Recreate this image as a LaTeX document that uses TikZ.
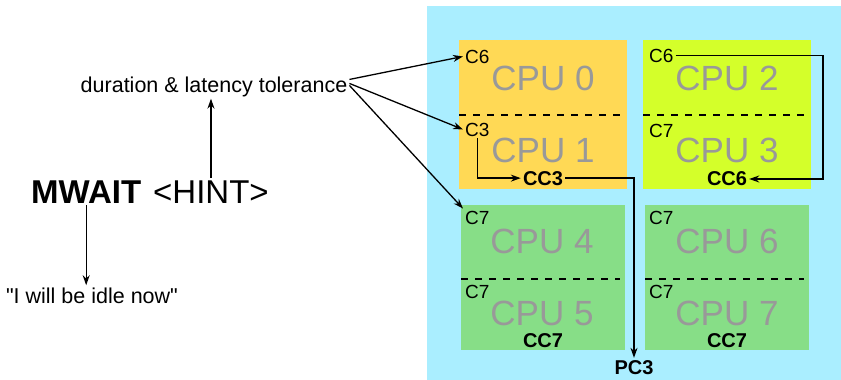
\documentclass[tikz,border=0pt]{standalone}
\usepackage{fontspec}
\setmainfont{Liberation Sans}
% same face without TeX quote mapping, for straight double quotes
\newfontfamily\plainsans{Liberation Sans}
\usetikzlibrary{arrows.meta,calc}
\definecolor{dieblue}{HTML}{AAEEFF}
\definecolor{coreorange}{HTML}{FFD955}
\definecolor{corelime}{HTML}{D4FF2A}
\definecolor{coregreen}{HTML}{87DE87}
\definecolor{cpugray}{HTML}{999999}
\tikzset{
  cpulabel/.style={text=cpugray, font=\fontsize{35}{35}\selectfont, inner sep=0pt, anchor=base},
  cstate/.style={font=\fontsize{19}{19}\selectfont, inner sep=2pt, anchor=base west},
  ccstate/.style={font=\bfseries\fontsize{20}{20}\selectfont, inner sep=2pt, anchor=base},
  note/.style={font=\plainsans\fontsize{21.5}{21.5}\selectfont, inner sep=2pt, anchor=base},
  conn/.style={line width=1.3pt, -{Stealth[length=10pt,width=7pt]}},
  split/.style={line width=1.2pt, dash pattern=on 7pt off 7pt},
}
\begin{document}
\begin{tikzpicture}[x=1pt,y=-1pt]
\useasboundingbox (0,0) rectangle (841,380);

% package die and core tiles
\fill[dieblue] (427,6) rectangle (841,380);
\fill[coreorange] (459,40) rectangle (627,189);
\fill[corelime] (643,40) rectangle (811,189);
\fill[coregreen] (461,205) rectangle (625,350);
\fill[coregreen] (645,205) rectangle (809,350);

% thread separators inside each core
\draw[split] (459,115) -- (620,115);
\draw[split] (643,115) -- (804,115);
\draw[split] (461,279) -- (620,279);
\draw[split] (645,279) -- (804,279);

% CPU names
\node[cpulabel] (cpu0) at (543,90) {CPU 0};
\node[cpulabel] (cpu1) at (543,162) {CPU 1};
\node[cpulabel] (cpu2) at (727,90) {CPU 2};
\node[cpulabel] (cpu3) at (727,162) {CPU 3};
\node[cpulabel] (cpu4) at (542,253) {CPU 4};
\node[cpulabel] (cpu5) at (542,325) {CPU 5};
\node[cpulabel] (cpu6) at (727,253) {CPU 6};
\node[cpulabel] (cpu7) at (727,325) {CPU 7};

% per-thread C-states
\node[cstate] (c6a) at (463,63) {C6};
\node[cstate] (c3a) at (463,136) {C3};
\node[cstate] (c6b) at (647,62) {C6};
\node[cstate] (c7b) at (647,137) {C7};
\node[cstate] (c7c) at (463,224) {C7};
\node[cstate] (c7d) at (463,298) {C7};
\node[cstate] (c7e) at (647,224) {C7};
\node[cstate] (c7f) at (647,298) {C7};

% core and package C-states
\node[ccstate] (cc3) at (543,185) {CC3};
\node[ccstate] (cc6) at (727,185) {CC6};
\node[ccstate] (cc7a) at (543,347) {CC7};
\node[ccstate] (cc7b) at (727,347) {CC7};
\node[ccstate] (pc3) at (634,374) {PC3};

% instruction and its meaning
\node[font=\bfseries\fontsize{33}{33}\selectfont, inner sep=2pt, anchor=base west] (mwait) at (29,203) {MWAIT};
\node[font=\fontsize{33}{33}\selectfont, inner sep=2pt, anchor=base west] (hint) at (151,203) {<HINT>};
\node[note] (dlt) at (214,92) {duration \& latency tolerance};
\node[note] (idle) at (92,303) {"I will be idle now"};

% connectors
\draw[conn] (hint.north) -- (hint.north |- dlt.south);
\draw[conn] (mwait.south) -- (mwait.south |- idle.north);
\draw[conn] ([yshift=7pt]dlt.east) -- (c6a.west);
\draw[conn] ([yshift=3pt]dlt.east) -- (c3a.west);
\draw[conn] ([yshift=1pt]dlt.east) -- (c7c.north west);
\draw[conn] (c3a.south) |- (cc3.west);
\draw[conn] (cc3.east) -| (pc3.north);
\coordinate (cc6turn) at (823,179);
\draw[conn] (c6b.east) -| (cc6turn) -- (cc6.east |- cc6turn);
\end{tikzpicture}
\end{document}
